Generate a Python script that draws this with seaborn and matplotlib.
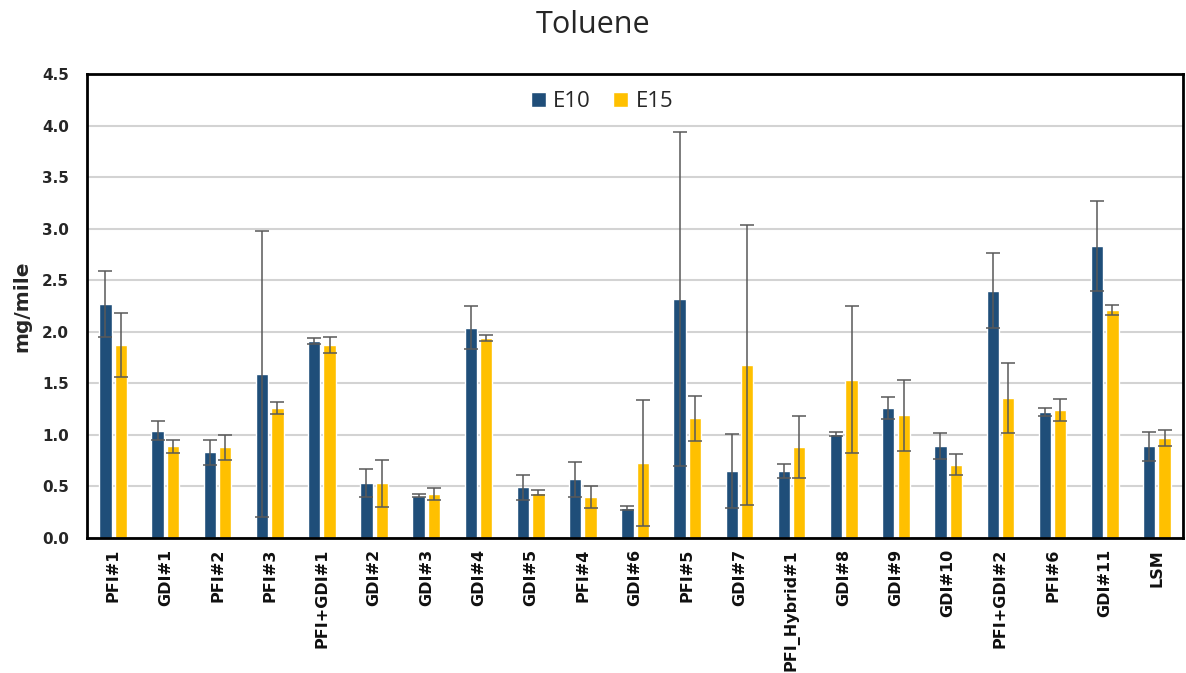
import pandas as pd
import seaborn as sns
import matplotlib.pyplot as plt
import numpy as np

# data
vehicles = ['PFI#1', 'GDI#1', 'PFI#2', 'PFI#3', 'PFI+GDI#1', 'GDI#2', 'GDI#3', 'GDI#4',
            'GDI#5', 'PFI#4', 'GDI#6', 'PFI#5', 'GDI#7', 'PFI_Hybrid#1', 'GDI#8',
            'GDI#9', 'GDI#10', 'PFI+GDI#2', 'PFI#6', 'GDI#11', 'LSM']
e10 = [2.27, 1.04, 0.83, 1.59, 1.91, 0.53, 0.41, 2.04, 0.49, 0.57, 0.29,
       2.32, 0.65, 0.65, 1.01, 1.26, 0.89, 2.40, 1.22, 2.83, 0.89]
e10_err = [0.32, 0.09, 0.12, 1.39, 0.03, 0.135, 0.015, 0.21, 0.12, 0.17, 0.02,
           1.62, 0.36, 0.07, 0.02, 0.11, 0.125, 0.365, 0.04, 0.435, 0.14]
e15 = [1.87, 0.89, 0.88, 1.26, 1.87, 0.53, 0.43, 1.94, 0.44, 0.40, 0.73,
       1.16, 1.68, 0.88, 1.535, 1.19, 0.71, 1.36, 1.24, 2.21, 0.97]
e15_err = [0.31, 0.065, 0.12, 0.055, 0.075, 0.225, 0.057, 0.03, 0.025, 0.107, 0.61,
           0.22, 1.36, 0.3, 0.715, 0.345, 0.1, 0.34, 0.11, 0.045, 0.08]
fuels = ['E10', 'E15']
colors = ['#1F4E79', '#FFC000']

df = pd.DataFrame({
    'vehicle': vehicles * 2,
    'fuel': ['E10'] * len(vehicles) + ['E15'] * len(vehicles),
    'value': e10 + e15,
    'err': e10_err + e15_err,
})

sns.set_style('white')
plt.rcParams['font.family'] = ['DejaVu Sans']

fig = plt.figure(figsize=(11.86, 6.73), dpi=100)
ax = fig.add_axes([0.0734, 0.2006, 0.9241, 0.6894])

sns.barplot(data=df, x='vehicle', y='value', hue='fuel', palette=colors,
            saturation=1, width=0.59, gap=0.2, errorbar=None, ax=ax, zorder=2)

# error bars at the centres of the drawn bars
for cont, fuel in zip(ax.containers, fuels):
    sub = df[df['fuel'] == fuel]
    xs = [p.get_x() + p.get_width() / 2 for p in cont.patches]
    ax.errorbar(xs, sub['value'], yerr=sub['err'], fmt='none', ecolor='#595959',
                elinewidth=1.1, capsize=5, capthick=1.1, zorder=3)

ticks = np.arange(0, 4.51, 0.5)
ax.set_ylim(0, 4.5)
ax.set_yticks(ticks)
ax.set_yticklabels([f'{v:.1f}' for v in ticks], fontsize=11, fontweight='bold', color='#262626')
ax.set_xlim(-0.5, len(vehicles) - 0.5)
ax.set_xticks(range(len(vehicles)))
ax.set_xticklabels(vehicles, rotation=90, fontsize=11.5, fontweight='bold', color='#111111')
ax.tick_params(axis='y', length=0, pad=13)
ax.tick_params(axis='x', length=0, pad=8)
ax.yaxis.grid(True, color='#D3D3D3', linewidth=1.5, zorder=0)
ax.set_axisbelow(True)
for s in ax.spines.values():
    s.set_color('black')
    s.set_linewidth(2)

ax.set_xlabel('')
ax.set_ylabel('mg/mile', fontsize=14.5, fontweight='bold', labelpad=8)

ax.legend(loc='center', bbox_to_anchor=(0.47, 0.94), ncol=2, frameon=False,
          handlelength=0.67, handleheight=0.67, handletextpad=0.35,
          columnspacing=1.0, prop={'family': 'Open Sans', 'size': 16})

fig.suptitle('Toluene', fontsize=22, y=0.985, family='Open Sans')

plt.savefig('out.png', dpi=100)
plt.close()
